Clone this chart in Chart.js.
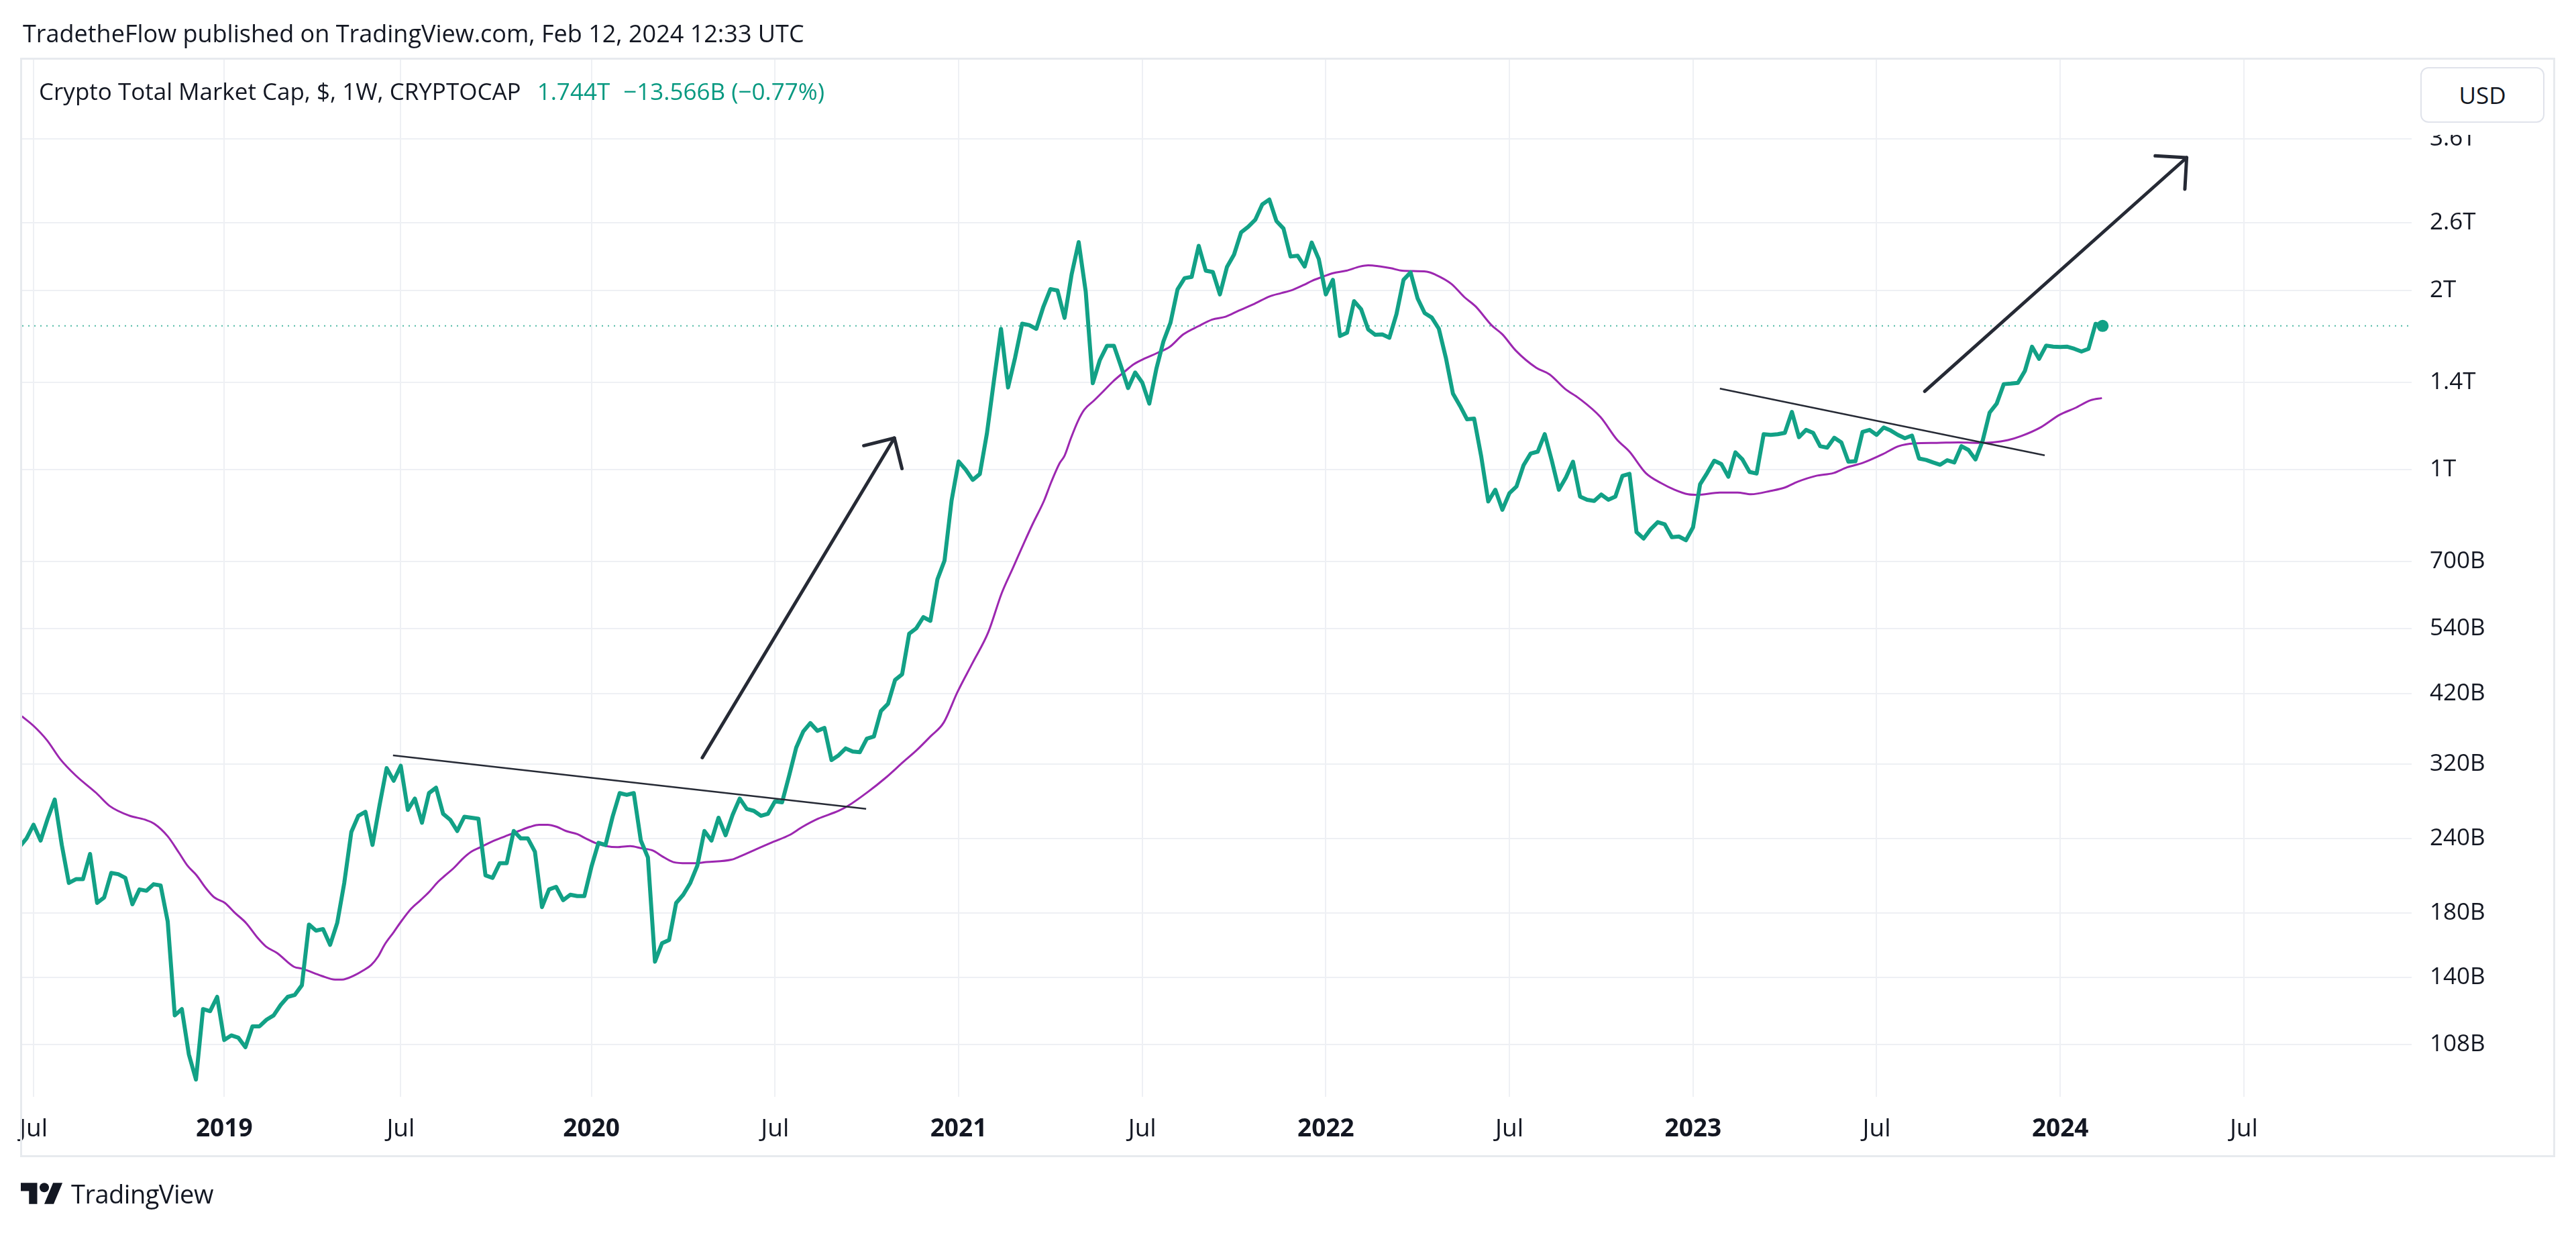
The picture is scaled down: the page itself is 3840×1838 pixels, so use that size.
<!DOCTYPE html>
<html>
<head>
<meta charset="utf-8">
<script src="https://cdn.jsdelivr.net/npm/chart.js@4.4.1/dist/chart.umd.min.js"></script>
<style>
  html, body { margin:0; padding:0; background:#ffffff; width:3840px; height:1838px; overflow:hidden; }
  body { font-family: "Open Sans", "Noto Sans", sans-serif; color:#131722; }
  #c { position:absolute; left:0; top:0; }
  .hdr { position:absolute; left:34px; top:30px; font-size:36px; line-height:40px; white-space:nowrap; color:#131722; }
  .frame { position:absolute; left:30px; top:86px; width:3779px; height:1639px; border:3px solid #e7eaee; box-sizing:border-box; pointer-events:none; }
  .legend { position:absolute; left:58px; top:116px; font-size:35px; line-height:40px; white-space:nowrap; color:#131722; }
  .legend .g { color:#089981; }
  .usdcover { position:absolute; left:3600px; top:90px; width:204px; height:111px; background:#ffffff; }
  .usd { position:absolute; left:3608px; top:100px; width:185px; height:83px; border:2px solid #e0e3eb; border-radius:12px; box-sizing:border-box; font-size:35px; line-height:79px; text-align:center; color:#131722; background:#fff; }
  .logo { position:absolute; left:31px; top:1756px; height:46px; display:flex; align-items:center; }
  .logo span { font-size:38px; margin-left:12px; color:#131722; letter-spacing:-0.5px; }
</style>
</head>
<body>
<canvas id="c" width="3840" height="1838"></canvas>
<div class="hdr">TradetheFlow published on TradingView.com, Feb 12, 2024 12:33 UTC</div>
<div class="frame"></div>
<div class="legend">Crypto Total Market Cap, $, 1W, CRYPTOCAP<span class="g" style="margin-left:24px">1.744T</span><span class="g" style="margin-left:20px">−13.566B (−0.77%)</span></div>
<div class="usdcover"></div>
<div class="usd">USD</div>
<div class="logo">
  <svg width="63" height="32" viewBox="0 4 36 18"><path fill="#131722" d="M14 22H7V11H0V4h14v18zM28 22h-8l7.5-18h8L28 22z"/><circle fill="#131722" cx="20" cy="8" r="4"/></svg>
  <span>TradingView</span>
</div>
<script>
// ---------------- DATA ----------------
// x values are week indexes: week 0 = weekly bar of 2 Jul 2018
const capStartWeek = -2;
// Crypto total market cap, weekly close, billions USD
const capValues = [
  232,240,253,238,259,279,234,202,205,205,
  226,187,191,210,209,206,186,197,196,201,
  200,174,121,124,104,94.4,124,123,130,110,
  112,111,107,116,116,119,121,126,130,131,
  136,172,168,169,159,173,202,246,262,266,
  234,273,315,300,318,268,280,255,286,292,
  264,258,247,261,260,259,208,206,218,218,
  247,240,240,228,184,197,199,189,193,192,
  192,215,236,234,261,286,284,286,238,223,
  149,160,162,187,193,202,216,247,238,260,
  243,263,280,269,267,262,264,277,276,306,
  341,363,375,364,368,325,331,340,336,335,
  353,356,393,404,443,453,530,541,565,557,
  654,703,887,1032,1000,961,983,1149,1411,1724,
  1374,1543,1759,1749,1724,1878,2011,2000,1799,2128,
  2411,1990,1397,1528,1614,1614,1491,1371,1456,1401,
  1291,1477,1642,1765,2009,2098,2108,2377,2159,2148,
  1970,2190,2298,2505,2559,2629,2790,2844,2617,2542,
  2281,2288,2194,2407,2259,1970,2084,1677,1698,1919,
  1860,1720,1685,1687,1666,1825,2084,2145,1939,1832,
  1801,1725,1541,1342,1280,1215,1218,1053,884,925,
  856,913,937,1017,1064,1072,1147,1035,925,970,
  1031,901,890,886,908,890,901,976,984,785,
  766,794,816,809,770,772,761,800,945,987,
  1035,1022,973,1069,1040,991,985,1147,1144,1147,
  1153,1250,1134,1166,1153,1095,1089,1131,1111,1031,
  1033,1157,1166,1144,1177,1163,1144,1129,1141,1044,
  1038,1028,1019,1037,1028,1095,1079,1040,1117,1247,
  1291,1392,1395,1399,1466,1609,1535,1616,1609,1607,
  1609,1596,1579,1596,1758,1744
];
// Moving average (purple), read at sample weeks, billions USD
const maWeeks = [
  -1.65,0,1.9,3.8,6,8.9,10.8,13.6,15.8,17.1,19,20.6,21.8,23.1,24.4,25.6,27.1,28.5,30.1,31.8,32.9,34.5,36.9,38,40.8,42.7,43.7,45.3,46.7,
  47.8,48.8,49.7,51,52.2,53.5,54.8,56,57.3,58.3,59.5,60.8,62,63.3,64.9,66.8,68.7,70.3,71.6,72.8,74.1,75.4,77,78.2,79.5,81.1,82.6,84.5,86.1,87.7,89,90.6,92.5,93.7,95.3,
  98.8,100.1,102.3,104.8,107,108.9,111.1,114,115.3,118.1,120.6,123.2,125.1,127,128.9,130.8,133,135.2,137.1,138.7,140.3,141.5,143.1,144.1,
  145.3,146,146.9,147.9,148.8,150.1,151.7,152.9,154.5,155.8,157.4,159,160.9,162.8,165,166.9,168.8,170.7,172.9,175.1,176.7,178.3,179.9,181.1,182.7,184,185.9,187.8,189,190.6,192.2,193.8,
  197.3,198.5,200.8,202.6,204.2,206.5,208,209.9,212.8,214.7,216.9,218.8,221.9,224.2,226,228.3,230.5,232.4,234.3,235.6,238.8,241.3,243.2,
  246,248,249.8,252.4,254.9,256.8,259,261.9,264.1,266.3,269.5,272.6,275.2,277.4,279.6,281.5,284.3,286.9,289.1,291.3,292.9
];
const maValues = [
  385,371,351,326,306,286,272,262,258,254,242,227,216,208,198,191,187,180,173,163,158,154,146,145,141,139,139,141,144,
  147,152,159,167,175,183,189,195,203,208,214,222,228,232,237,242,247,251,253,253,251,247,244,240,236,233,232,233,231,229,224,219,218,218,219,
  221,224,230,237,243,251,259,267,272,287,303,323,338,356,376,422,474,533,620,684,755,811,887,952,
  1025,1055,1129,1207,1261,1304,1362,1408,1461,1503,1538,1568,1608,1687,1743,1787,1807,1851,1900,1956,1980,2005,2044,2078,2112,2138,2159,2194,2205,2196,2180,2159,
  2151,2127,2051,1950,1881,1747,1688,1585,1483,1445,1366,1319,1225,1124,1072,987,949,925,909,907,915,915,909,
  921,933,954,976,987,1009,1026,1062,1095,1107,1109,1111,1109,1111,1121,1139,1179,1236,1269,1308,1319
];
const lastPrice = 1744;               // billions, dotted last-price line
// Drawn annotations (week index, billions)
const trendAWeeks = [50.9, 117.9],  trendAValues = [331, 269];
const trendBWeeks = [238.8, 284.8], trendBValues = [1368, 1057];
const arrowAWeeks = [94.7, 121.9],  arrowAValues = [328, 1130];
const arrowBWeeks = [267.8, 304.9], arrowBValues = [1354, 3344];
// Axis ticks
const xTickWeeks  = [0, 27, 52, 79, 105, 131, 157, 183, 209, 235, 261, 287, 313];
const xTickLabels = ['Jul','2019','Jul','2020','Jul','2021','Jul','2022','Jul','2023','Jul','2024','Jul'];
const yTickValues = [108, 140, 180, 240, 320, 420, 540, 700, 1000, 1400, 2000, 2600, 3600];
const yTickLabels = ['108B','140B','180B','240B','320B','420B','540B','700B','1T','1.4T','2T','2.6T','3.6T'];
const xRange = [-1.615, 336.76];       // visible weeks
const yRange = [88.3, 4885];           // visible billions

// ---------------- STYLE ----------------
const GREEN = '#12a186';
const PURPLE = '#9c27b0';
const DRAW = '#262a35';
const GRID = '#eef0f4';
const B = 1e9;

const pts = (ws, vs) => ws.map((w, i) => ({ x: w, y: vs[i] * B }));
const capPts = capValues.map((v, i) => ({ x: capStartWeek + i, y: v * B }));
const lastIdx = capValues.length - 1;

const arrowHeads = {
  id: 'arrowHeads',
  afterDatasetsDraw(chart) {
    const ctx = chart.ctx;
    chart.data.datasets.forEach((ds, i) => {
      if (!ds.arrow) return;
      const d = chart.getDatasetMeta(i).data;
      const a = d[0], b = d[d.length - 1];
      const ang = Math.atan2(b.y - a.y, b.x - a.x);
      ctx.save();
      ctx.strokeStyle = ds.borderColor;
      ctx.lineWidth = ds.borderWidth;
      ctx.lineCap = 'round';
      ctx.beginPath();
      [-1, 1].forEach(s => {
        const t = ang + Math.PI + s * Math.PI / 4;
        ctx.moveTo(b.x, b.y);
        ctx.lineTo(b.x + 47 * Math.cos(t), b.y + 47 * Math.sin(t));
      });
      ctx.stroke();
      ctx.restore();
    });
  }
};

const AXIS_FONT = 'Open Sans';

new Chart(document.getElementById('c'), {
  type: 'line',
  data: {
    datasets: [
      { label: 'arrowA', data: pts(arrowAWeeks, arrowAValues), borderColor: DRAW, borderWidth: 5, pointRadius: 0, arrow: true, borderCapStyle: 'round' },
      { label: 'arrowB', data: pts(arrowBWeeks, arrowBValues), borderColor: DRAW, borderWidth: 5, pointRadius: 0, arrow: true, borderCapStyle: 'round' },
      { label: 'trendA', data: pts(trendAWeeks, trendAValues), borderColor: DRAW, borderWidth: 2.5, pointRadius: 0 },
      { label: 'trendB', data: pts(trendBWeeks, trendBValues), borderColor: DRAW, borderWidth: 2.5, pointRadius: 0 },
      { label: 'Crypto Total Market Cap', data: capPts, borderColor: GREEN, borderWidth: 6, tension: 0,
        borderJoinStyle: 'round',
        pointRadius: c => c.dataIndex === lastIdx ? 9 : 0,
        pointBackgroundColor: GREEN, pointBorderWidth: 0 },
      { label: 'MA', data: pts(maWeeks, maValues), borderColor: PURPLE, borderWidth: 3, pointRadius: 0,
        cubicInterpolationMode: 'monotone' },
      { label: 'last', data: [{ x: xRange[0], y: lastPrice * B }, { x: xRange[1], y: lastPrice * B }],
        borderColor: 'rgba(19,161,133,0.75)', borderWidth: 2, borderDash: [2, 7], pointRadius: 0 }
    ]
  },
  options: {
    responsive: false,
    devicePixelRatio: 1,
    animation: false,
    parsing: false,
    normalized: true,
    layout: { padding: { left: 33, top: 89, right: 0, bottom: 0 } },
    plugins: { legend: { display: false }, tooltip: { enabled: false } },
    scales: {
      x: {
        type: 'linear',
        min: xRange[0], max: xRange[1],
        afterBuildTicks: s => { s.ticks = xTickWeeks.map(v => ({ value: v })); },
        afterFit: s => { s.height = 203; },
        grid: { color: GRID, lineWidth: 2, drawTicks: false },
        border: { display: false },
        ticks: {
          autoSkip: false, maxRotation: 0, padding: 26,
          color: '#131722',
          font: c => ({ family: AXIS_FONT, size: 37, weight: /^\d{4}$/.test(xTickLabels[c.index] || '') ? 'bold' : 'normal' }),
          callback: (v, i) => xTickLabels[i]
        }
      },
      y: {
        type: 'logarithmic',
        position: 'right',
        min: yRange[0] * B, max: yRange[1] * B,
        afterBuildTicks: s => { s.ticks = yTickValues.map(v => ({ value: v * B })); },
        afterFit: s => { s.width = 245; },
        grid: { color: GRID, lineWidth: 2, drawTicks: false },
        border: { display: false },
        ticks: {
          padding: 27, color: '#131722',
          font: { family: AXIS_FONT, size: 35 },
          callback: (v, i) => yTickLabels[i]
        }
      }
    }
  },
  plugins: [arrowHeads]
});
</script>
</body>
</html>
